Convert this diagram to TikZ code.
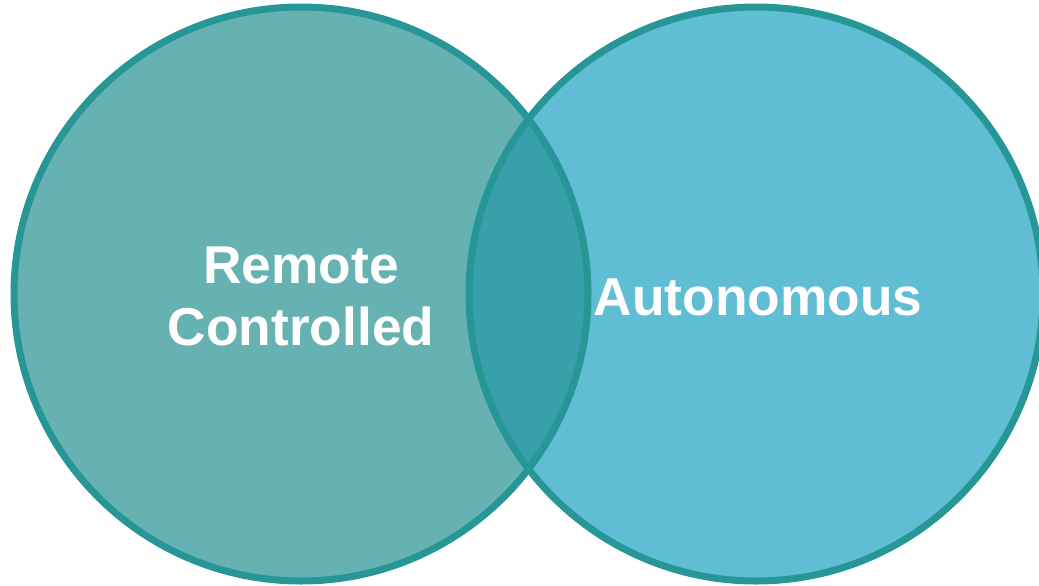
\documentclass[tikz,border=0pt]{standalone}
\usepackage{fontspec}
\setmainfont{Liberation Sans}
\definecolor{ringteal}{RGB}{38,150,150}
\definecolor{leftfill}{RGB}{102,178,178}
\definecolor{rightfill}{RGB}{96,190,212}
\definecolor{overlapfill}{RGB}{56,160,170}
\tikzset{
  ring/.style={draw=ringteal, line width=7pt},
  label/.style={text=white, font=\bfseries\fontsize{53.3}{62}\selectfont, align=center, inner sep=0pt}
}
\begin{document}
\begin{tikzpicture}[x=1pt,y=-1pt]
  \useasboundingbox (0,0) rectangle (1039,586);
  \clip (0,0) rectangle (1039,586);
  % fills of the two sets
  \fill[leftfill] (301,294) circle (287);
  \fill[rightfill] (756,294) circle (287);
  % intersection region
  \begin{scope}
    \clip (301,294) circle (287);
    \fill[overlapfill] (756,294) circle (287);
  \end{scope}
  % outlines
  \draw[ring] (301,294) circle (287);
  \draw[ring] (756,294) circle (287);
  % labels
  \node[label] (remote) at (301,296) {Remote\\Controlled};
  \node[label] (auto) at (758,297) {Autonomous};
\end{tikzpicture}
\end{document}
